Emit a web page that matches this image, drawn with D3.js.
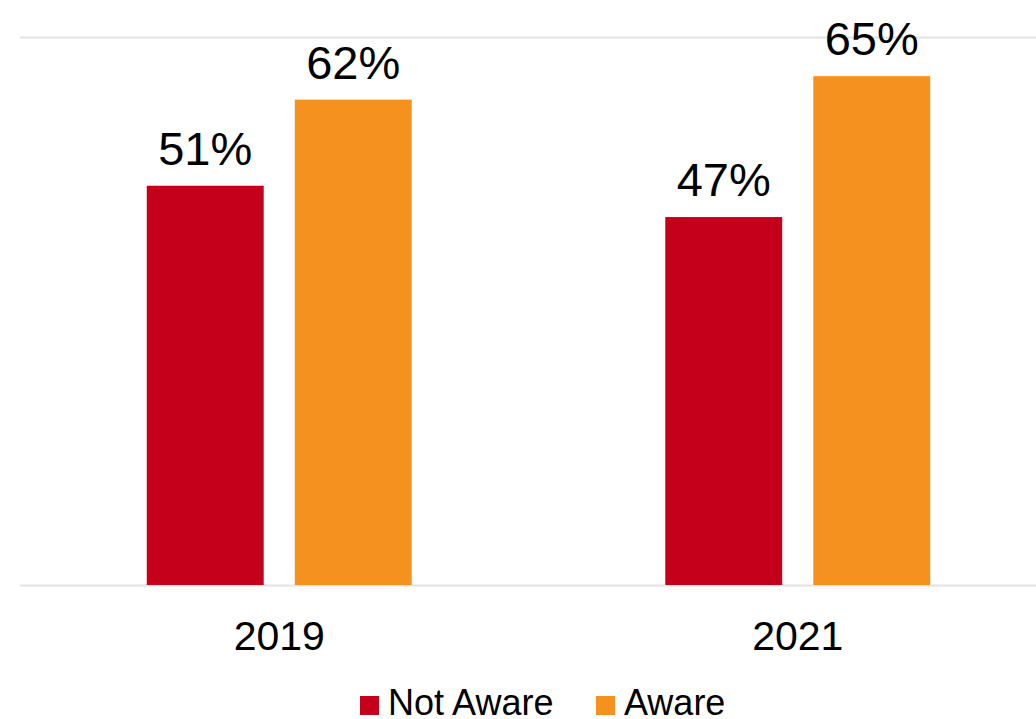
<!DOCTYPE html>
<html>
<head>
<meta charset="utf-8">
<script src="https://cdn.jsdelivr.net/npm/d3@7"></script>
<style>
  body { margin: 0; background: #fff; }
  text { font-family: "Liberation Sans", Arial, sans-serif; fill: #000; }
</style>
</head>
<body>
<div id="chart"></div>
<script>
// data
var years = ["2019", "2021"];
var seriesNames = ["Not Aware", "Aware"];
var notAware = [51, 47];
var aware = [62, 65];
var yTicks = [0, 70];

var colors = ["#C4001A", "#F5921F"];

var svgWidth = 1036;
var svgHeight = 719;

var svg = d3.select("#chart")
    .append("svg")
    .attr("width", svgWidth)
    .attr("height", svgHeight);

// build rows for the grouped bars
var rows = years.map(function(y, i) {
    return { year: y, values: [notAware[i], aware[i]] };
});

// scales
var y = d3.scaleLinear()
    .domain([0, 70])
    .range([585, 37]);

var x0 = d3.scaleBand()
    .domain(years)
    .range([20, 1057])
    .paddingInner(0.489)
    .paddingOuter(0.2445);

var x1 = d3.scaleBand()
    .domain(seriesNames)
    .range([0, x0.bandwidth()])
    .paddingInner(0.21);

// gridlines
svg.append("g")
    .selectAll("line")
    .data(yTicks)
    .enter()
    .append("line")
    .attr("x1", 20)
    .attr("x2", svgWidth)
    .attr("y1", d => y(d) + 0.5)
    .attr("y2", d => y(d) + 0.5)
    .attr("stroke", "#e3e3e3")
    .attr("stroke-width", 2);

// bars
var groups = svg.selectAll(".grp")
    .data(rows)
    .enter()
    .append("g")
    .attr("class", "grp")
    .attr("transform", d => `translate(${x0(d.year)},0)`);

groups.selectAll("rect")
    .data(d => d.values.map((v, i) => ({ name: seriesNames[i], value: v, i: i })))
    .enter()
    .append("rect")
    .attr("x", d => x1(d.name))
    .attr("y", d => y(d.value))
    .attr("width", x1.bandwidth())
    .attr("height", d => y(0) - y(d.value))
    .attr("fill", d => colors[d.i]);

// value labels
groups.selectAll(".val")
    .data(d => d.values.map((v, i) => ({ name: seriesNames[i], value: v })))
    .enter()
    .append("text")
    .attr("class", "val")
    .attr("x", d => x1(d.name) + x1.bandwidth() / 2)
    .attr("y", d => y(d.value) - 21)
    .attr("text-anchor", "middle")
    .attr("font-size", "47px")
    .text(d => d.value + "%");

// category axis labels
svg.append("g")
    .selectAll("text")
    .data(years)
    .enter()
    .append("text")
    .attr("x", d => x0(d) + x0.bandwidth() / 2)
    .attr("y", 650)
    .attr("text-anchor", "middle")
    .attr("font-size", "41px")
    .text(d => d);

// legend
var legendX = [360, 596];
var legend = svg.append("g")
    .selectAll("g")
    .data(seriesNames)
    .enter()
    .append("g")
    .attr("transform", (d, i) => `translate(${legendX[i]},0)`);

legend.append("rect")
    .attr("x", 0)
    .attr("y", 696)
    .attr("width", 19)
    .attr("height", 19)
    .attr("fill", (d, i) => colors[i]);

legend.append("text")
    .attr("x", 28)
    .attr("y", 715)
    .attr("font-size", "36px")
    .text(d => d);
</script>
</body>
</html>
